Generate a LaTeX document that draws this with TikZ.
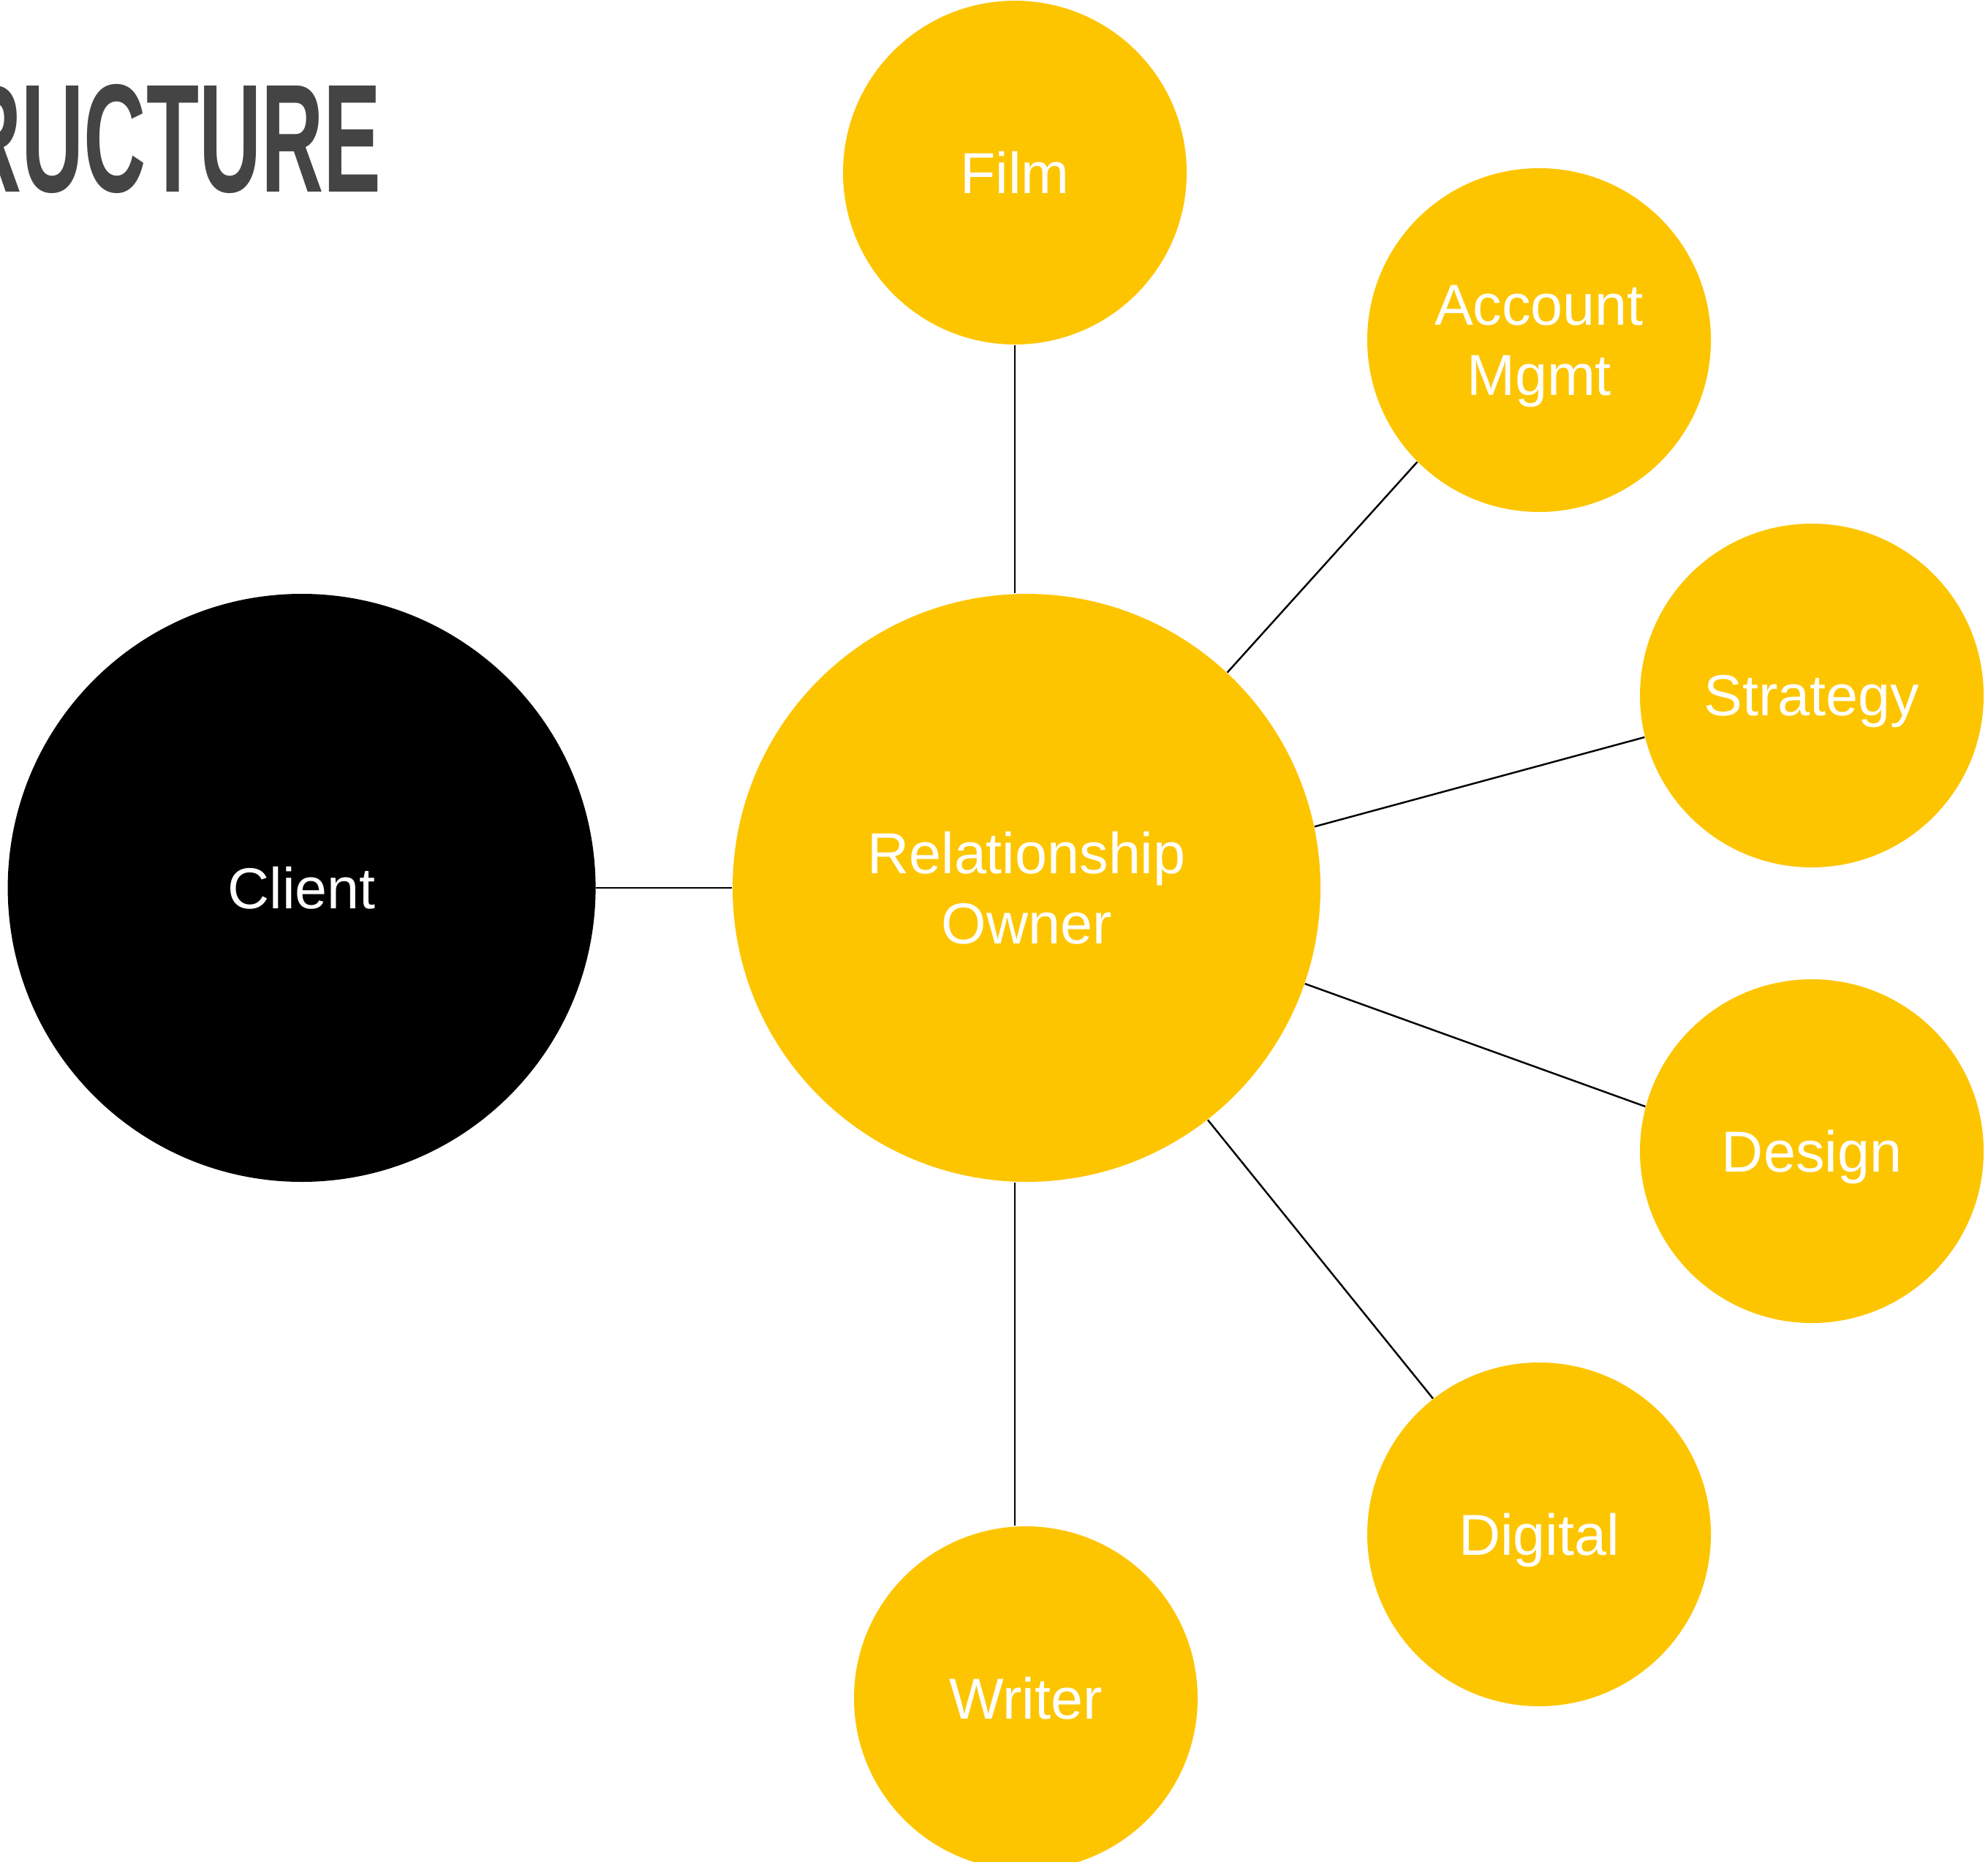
\documentclass[tikz,border=0pt]{standalone}
\usepackage{fontspec}
\setmainfont{Liberation Sans}
\newfontfamily\titlefont{Liberation Sans}
\usetikzlibrary{positioning,calc}
\definecolor{gold}{HTML}{FDC500}
\definecolor{charcoal}{HTML}{444444}

\begin{document}
\begin{tikzpicture}[
    bubble/.style={circle, fill=gold, inner sep=0pt, minimum size=4.7cm, align=center, text=white,
        text depth=0pt, font=\fontsize{22.5}{27.3}\selectfont},
    hub/.style={bubble, minimum size=8.04cm},
    link/.style={draw=black, line width=0.7pt}
]
    \useasboundingbox (0,0) rectangle (27.19,-25.46);

    % Title
    \node[anchor=base east, inner sep=0pt, xscale=0.56, text=charcoal,
        font=\titlefont\bfseries\fontsize{60}{60}\selectfont] (title) at (5.22,-2.63) {STRUCTURE};

    % Nodes
    \node[hub] (ro) at (14.04,-12.14) {Relationship\\Owner};
    \node[hub, fill=black, left=1.86cm of ro] (client) {Client};
    \node[bubble] (film) at ($(ro)+(-0.16,9.78)$) {Film};
    \node[bubble] (acct) at ($(ro)+(7.01,7.49)$) {Account\\Mgmt};
    \node[bubble] (strat) at ($(ro)+(10.74,2.63)$) {Strategy};
    \node[bubble] (design) at ($(ro)+(10.74,-3.60)$) {Design};
    \node[bubble] (digital) at ($(ro)+(7.01,-8.84)$) {Digital};
    \node[bubble] (writer) at ($(ro)+(-0.01,-11.08)$) {Writer};

    % Links
    \draw[link] (client) -- (ro);
    \draw[link] (film) -- (film |- ro.north);
    \draw[link] (ro.47.4) -- (acct.225);
    \draw[link] (ro.12.8) -- (strat.194);
    \draw[link] (ro.-19.5) -- (design.165);
    \draw[link] (ro.-52.9) -- (digital.128);
    \draw[link] (ro.south -| film) -- (writer.north -| film);
\end{tikzpicture}
\end{document}
